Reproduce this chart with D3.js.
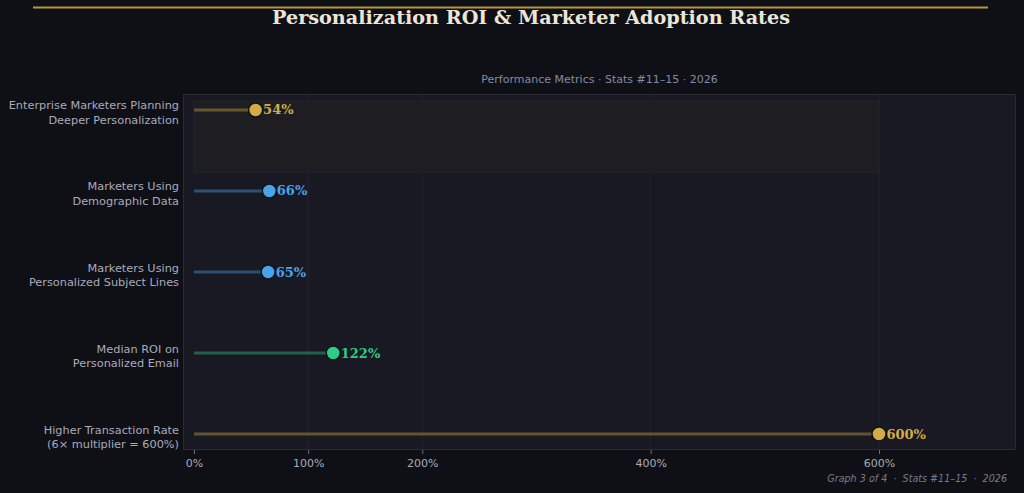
<!DOCTYPE html>
<html><head><meta charset="utf-8">
<script src="https://cdn.jsdelivr.net/npm/d3@7"></script>
<style>
html,body{margin:0;padding:0;background:#0f1015;}
svg{display:block;}
</style></head>
<body>
<svg id="c" width="1024" height="493"></svg>
<script>
const categories = [
  ["Enterprise Marketers Planning", "Deeper Personalization"],
  ["Marketers Using", "Demographic Data"],
  ["Marketers Using", "Personalized Subject Lines"],
  ["Median ROI on", "Personalized Email"],
  ["Higher Transaction Rate", "(6× multiplier = 600%)"]
];
const values = [54, 66, 65, 122, 600];
const colors = ["#d4ac45", "#4aa3e8", "#4aa3e8", "#2ecc85", "#d4ac45"];
const tickValues = [0, 100, 200, 400, 600];
const highlightIndex = 0;

const svg = d3.select("#c");
const W = 1024, H = 493;
const panel = {left: 183, right: 1016, top: 94, bottom: 450};

svg.append("rect").attr("width", W).attr("height", H).attr("fill", "#0f1015");

// top gold rule
svg.append("line").attr("x1", 33).attr("x2", 988).attr("y1", 7.5).attr("y2", 7.5)
  .attr("stroke", "#b8953a").attr("stroke-width", 2);

svg.append("text").attr("x", 531).attr("y", 24).attr("text-anchor", "middle")
  .attr("font-family", "DejaVu Serif").attr("font-weight", "bold").attr("font-size", 19.2)
  .attr("fill", "#ebe6d8").text("Personalization ROI & Marketer Adoption Rates");

svg.append("text").attr("x", (panel.left + panel.right) / 2).attr("y", 83).attr("text-anchor", "middle")
  .attr("font-family", "DejaVu Sans").attr("font-size", 11)
  .attr("fill", "#858aa3").text("Performance Metrics · Stats #11–15 · 2026");

const x = d3.scaleLinear().domain([-9.6, 720]).range([panel.left, panel.right]);
const y = d3.scaleBand().domain(d3.range(categories.length)).range([panel.top, panel.bottom])
  .paddingInner(0.605).paddingOuter(0);
const cy = i => y(i) + y.bandwidth() / 2;

// panel
svg.append("rect").attr("x", panel.left + 0.5).attr("y", panel.top + 0.5)
  .attr("width", panel.right - panel.left - 1).attr("height", panel.bottom - panel.top - 1)
  .attr("fill", "#181922").attr("stroke", "#2a2b36").attr("stroke-width", 1);

// gridlines
svg.append("g").selectAll("line").data(tickValues.slice(1)).join("line")
  .attr("x1", d => x(d)).attr("x2", d => x(d))
  .attr("y1", panel.top + 1).attr("y2", panel.bottom - 1)
  .attr("stroke", "#22232d").attr("stroke-width", 1);

// highlight band
svg.append("rect")
  .attr("x", x(0)).attr("width", x(d3.max(values)) - x(0))
  .attr("y", cy(highlightIndex) - 0.11 * y.step()).attr("height", 0.877 * y.step())
  .attr("fill", "#1e1e22").attr("stroke", "#24242a");

// stems
svg.append("g").selectAll("line").data(values).join("line")
  .attr("x1", x(0)).attr("x2", d => x(d))
  .attr("y1", (d, i) => cy(i)).attr("y2", (d, i) => cy(i))
  .attr("stroke", (d, i) => colors[i]).attr("stroke-opacity", 0.4).attr("stroke-width", 3);

// dots
svg.append("g").selectAll("circle").data(values).join("circle")
  .attr("cx", d => x(d)).attr("cy", (d, i) => cy(i)).attr("r", 7)
  .attr("fill", (d, i) => colors[i]).attr("stroke", "#121318").attr("stroke-width", 1.5);

// value labels
svg.append("g").selectAll("text").data(values).join("text")
  .attr("x", d => x(d) + 7.5).attr("y", (d, i) => cy(i) + 4.5)
  .attr("font-family", "DejaVu Serif").attr("font-weight", "bold").attr("font-size", 13)
  .attr("fill", (d, i) => colors[i]).text(d => d + "%");

// y labels
const yl = svg.append("g").selectAll("text").data(categories).join("text")
  .attr("text-anchor", "end").attr("font-family", "DejaVu Sans").attr("font-size", 11.3)
  .attr("fill", "#a9abbb");
yl.each(function(d, i) {
  const t = d3.select(this);
  t.append("tspan").attr("x", 179).attr("y", cy(i) - 0.5).text(d[0]);
  t.append("tspan").attr("x", 179).attr("y", cy(i) + 14).text(d[1]);
});

// x axis
const xAxis = d3.axisBottom(x).tickValues(tickValues).tickFormat(d => d + "%").tickSize(4).tickPadding(5);
const ax = svg.append("g").attr("transform", `translate(0,${panel.bottom})`).call(xAxis);
ax.select(".domain").remove();
ax.selectAll(".tick line").attr("stroke", "#6a6c7c");
ax.selectAll(".tick text").attr("fill", "#a9abbb").attr("font-family", "DejaVu Sans").attr("font-size", 11);

// footer
svg.append("text").attr("x", 1007).attr("y", 482).attr("text-anchor", "end")
  .attr("font-family", "DejaVu Sans").attr("font-style", "italic").attr("font-size", 9.6)
  .attr("fill", "#767a90").attr("xml:space", "preserve").text("Graph 3 of 4  ·  Stats #11–15  ·  2026");
</script>
</body></html>
